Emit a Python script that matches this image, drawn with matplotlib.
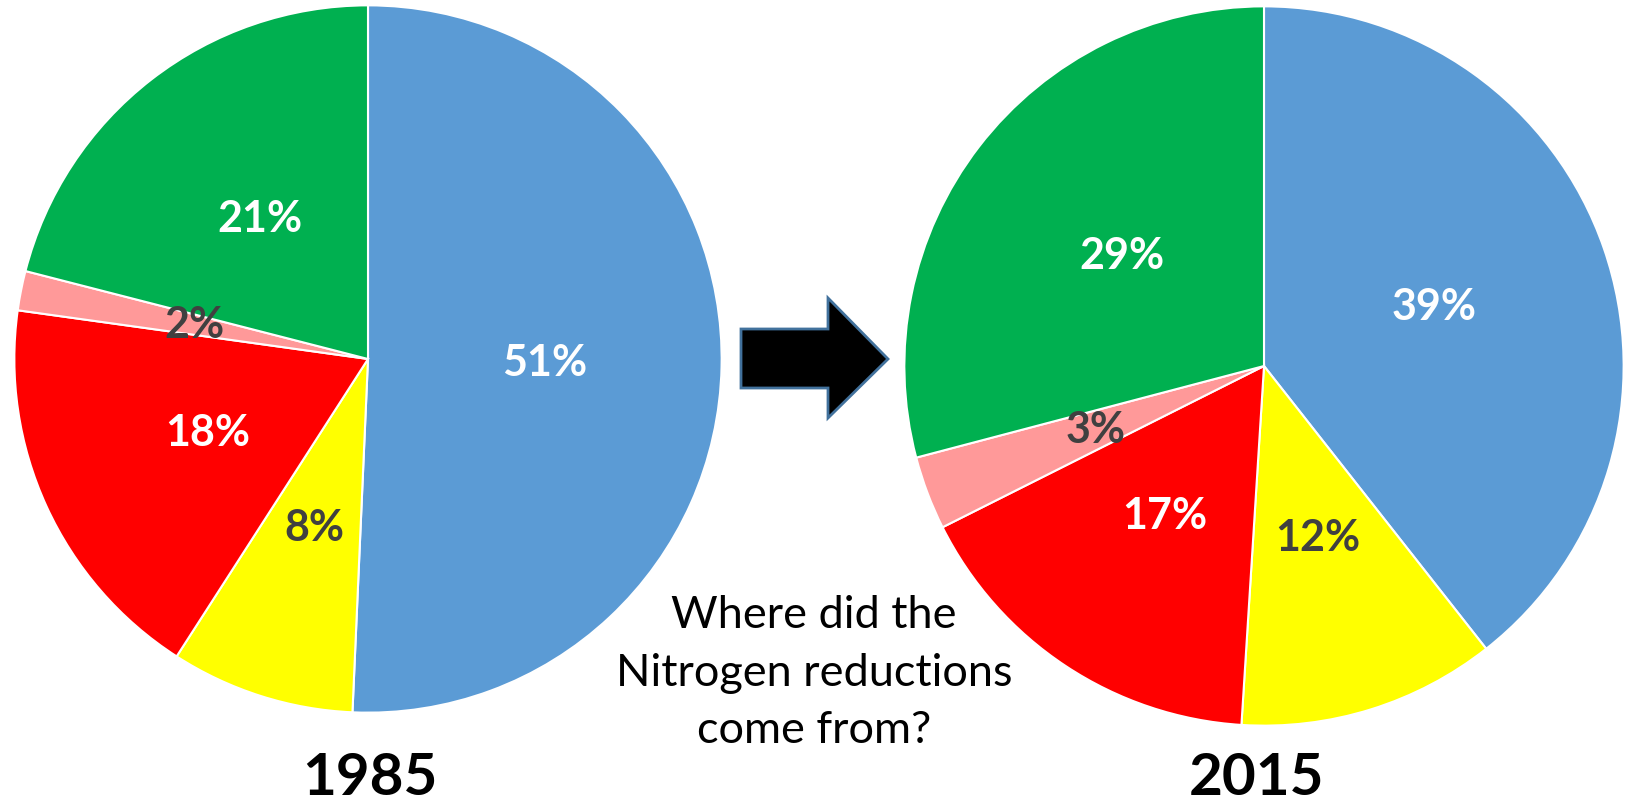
import matplotlib
matplotlib.use('Agg')
import matplotlib.pyplot as plt
from matplotlib.patches import Polygon

plt.rcParams['font.family'] = ['Lato', 'DejaVu Sans']

# slice order, clockwise from 12 o'clock
sources = ['blue', 'yellow', 'red', 'pink', 'green']
colors = ['#5B9BD5', '#FFFF00', '#FF0000', '#FF9999', '#00B050']
label_colors = ['white', '#404040', 'white', '#404040', 'white']
share_1985 = [50.7, 8.4, 18.1, 1.8, 21.0]
share_2015 = [39.4, 11.6, 16.6, 3.3, 29.1]
years = ['1985', '2015']
question = ['Where did the', 'Nitrogen reductions', 'come from?']

W, H = 1626, 806
fig = plt.figure(figsize=(W / 100, H / 100), dpi=100)


def pie_axes(cx, cy, r):
    # centre and radius in pixels, measured from top-left
    return fig.add_axes([(cx - r) / W, (H - cy - r) / H, 2 * r / W, 2 * r / H])


def draw_pie(ax, values):
    wedges, texts, autotexts = ax.pie(
        values, colors=colors, startangle=90, counterclock=False,
        autopct='%.0f%%', pctdistance=0.5, radius=1,
        wedgeprops=dict(edgecolor='white', linewidth=1.5))
    for t, c in zip(autotexts, label_colors):
        t.set_color(c)
        t.set_fontsize(31)
        t.set_fontweight('bold')
    ax.set_xlim(-1.001, 1.001)
    ax.set_ylim(-1.001, 1.001)
    ax.axis('off')


ax1 = pie_axes(368, 359, 354)
draw_pie(ax1, share_1985)
ax2 = pie_axes(1264, 366, 360)
draw_pie(ax2, share_2015)

# overlay in pixel coords for arrow and text
ov = fig.add_axes([0, 0, 1, 1], zorder=5)
ov.set_xlim(0, W)
ov.set_ylim(H, 0)
ov.axis('off')
ov.patch.set_alpha(0)

arrow = [(741, 329), (828, 329), (828, 298), (888, 359),
         (828, 418), (828, 388), (741, 388)]
ov.add_patch(Polygon(arrow, closed=True, facecolor='black',
                     edgecolor='#41719C', linewidth=2))

for line, y in zip(question, [628, 686, 743]):
    ov.text(814, y, line, ha='center', va='baseline', fontsize=32.5,
            color='black')

ov.text(370, 805, years[0], ha='center', va='bottom', fontsize=42,
        fontweight='bold', color='black')
ov.text(1256, 805, years[1], ha='center', va='bottom', fontsize=42,
        fontweight='bold', color='black')

fig.savefig('out.png', dpi=100, facecolor='white')
